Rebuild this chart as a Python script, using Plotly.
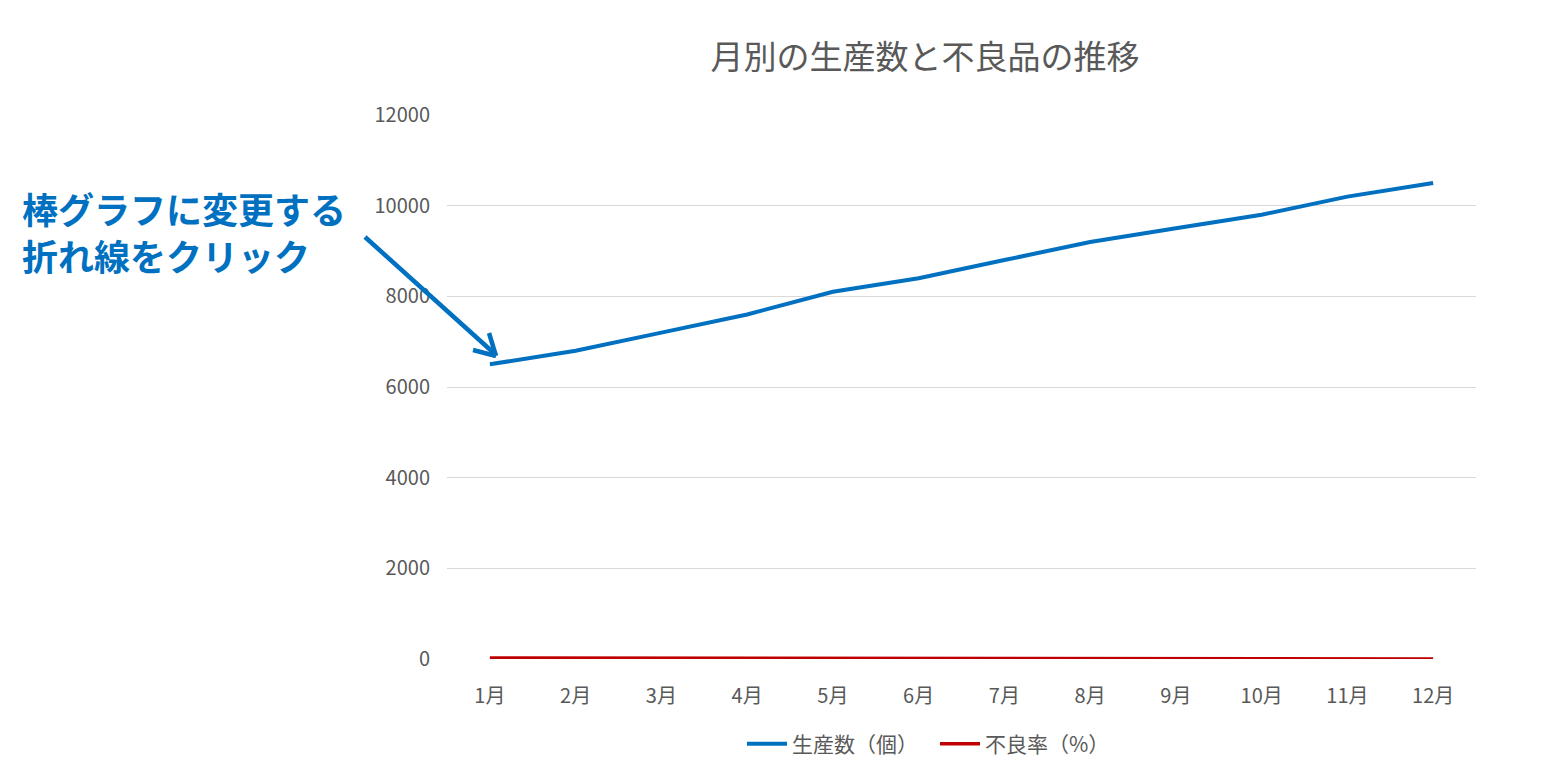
import plotly.graph_objects as go

months = ["1月", "2月", "3月", "4月", "5月", "6月", "7月", "8月", "9月", "10月", "11月", "12月"]
production = [6500, 6800, 7200, 7600, 8100, 8400, 8800, 9200, 9500, 9800, 10200, 10500]
defect_rate = [20, 20, 19, 19, 18, 18, 17, 17, 16, 16, 15, 2]
y_ticks = [0, 2000, 4000, 6000, 8000, 10000, 12000]

W, H = 1544, 779
L, R, T, B = 447, 68, 115, 120
PW, PH = W - L - R, H - T - B

def px(x):
    return (x - L) / PW

def py(y):
    return (H - B - y) / PH

FONT = "Noto Sans CJK JP"
GREY = "#595959"
BLUE = "#0070C0"

fig = go.Figure()
fig.add_trace(go.Scatter(x=months, y=production, mode="lines", name="生産数（個）",
                         line=dict(color=BLUE, width=4)))
fig.add_trace(go.Scatter(x=months, y=defect_rate, mode="lines", name="不良率（%）",
                         line=dict(color="#C00000", width=3.5)))

fig.update_layout(
    width=W, height=H,
    margin=dict(l=L, r=R, t=T, b=B, autoexpand=False),
    paper_bgcolor="white", plot_bgcolor="white",
    font=dict(family=FONT, color=GREY, size=20),
    title=dict(text="月別の生産数と不良品の推移", x=925 / W, xanchor="center",
               y=1 - 57 / H, yanchor="middle", font=dict(size=33, color=GREY)),
    showlegend=True,
    legend=dict(orientation="h", x=px(742), xanchor="left", y=py(744), yanchor="middle",
                font=dict(size=21, color=GREY), itemwidth=40, traceorder="normal",
                entrywidth=138, entrywidthmode="pixels"),
    xaxis=dict(type="category", range=[-0.5, 11.5], showgrid=False, zeroline=False,
               showline=False, ticks="", ticklabelstandoff=23,
               tickfont=dict(size=20, color=GREY)),
    yaxis=dict(range=[0, 12000], tickvals=y_ticks, tickformat="d", showgrid=True,
               gridcolor="#D9D9D9", gridwidth=1.3, zeroline=False, showline=False,
               ticks="", ticklabelstandoff=16, tickfont=dict(size=20, color=GREY)),
)

fig.add_annotation(text="<b>棒グラフに変更する<br>折れ線をクリック</b>", xref="paper", yref="paper",
                   x=px(20), y=py(231), xanchor="left", yanchor="middle", align="left",
                   showarrow=False, font=dict(size=36, color=BLUE, family=FONT))

arrow_pts = [((365, 237), (496, 355)), ((496, 356), (489, 333)), ((496, 356), (473, 350))]
for (x0, y0), (x1, y1) in arrow_pts:
    fig.add_shape(type="line", xref="paper", yref="paper", x0=px(x0), y0=py(y0),
                  x1=px(x1), y1=py(y1), line=dict(color=BLUE, width=4.5))

fig.write_html("out.html", config={"displayModeBar": False},
               post_script="document.body.style.margin='0';")
